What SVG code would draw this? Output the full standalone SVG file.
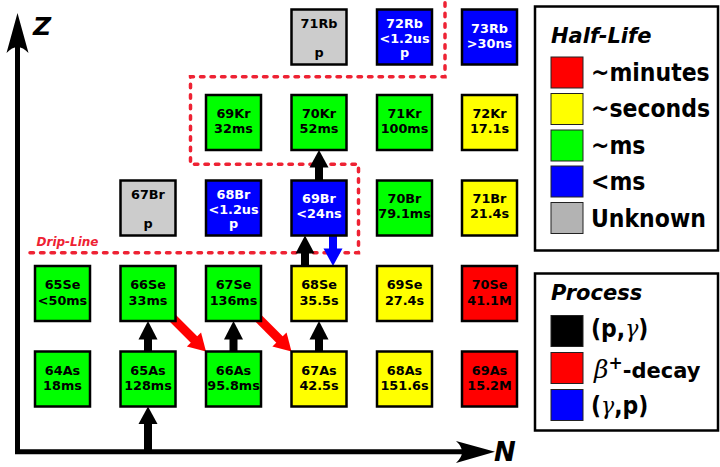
<svg xmlns="http://www.w3.org/2000/svg" width="720" height="467" viewBox="0 0 720 467">
<style>
.nd rect{stroke:#000;stroke-width:2.5}
.g rect{fill:#00ff00}.y rect{fill:#ffff00}.r rect{fill:#ff0000}.b rect{fill:#0000ff}.u rect{fill:#cccccc}
.nd text{font-family:"DejaVu Sans","Liberation Sans",sans-serif;font-weight:bold;font-size:12.8px;text-anchor:middle;fill:#000}
.b text{fill:#fff}
.ax{stroke:#000;stroke-width:5;fill:none}
.lab{font-family:"DejaVu Sans","Liberation Sans",sans-serif;font-weight:bold;font-style:italic}
.lg{font-family:"DejaVu Sans","Liberation Sans",sans-serif;font-weight:bold;font-size:22px}
.sw{stroke:#222;stroke-width:1}
.drip{fill:none;stroke:#ee2233;stroke-width:3.5;stroke-linecap:round;stroke-dasharray:3.5 7}
.math{font-family:"DejaVu Serif","Liberation Serif",serif;font-style:italic;font-weight:normal}
</style>
<rect width="720" height="467" fill="#fff"/>
<g id="axes">
<path class="ax" d="M17.5,40 V451.8 H470"/>
<path d="M17.5,13 L28.5,53 Q17.5,41 6.5,53 Z" fill="#000"/>
<path d="M495,451.8 L456,441 Q468,451.8 456,463 Z" fill="#000"/>
<text class="lab" x="33" y="35" font-size="25">Z</text>
<text class="lab" x="494" y="461" font-size="26">N</text>
</g>
<g id="drip-line">
<path class="drip" d="M30,252.7 H358.5 V164.3 H190.5 V76.7 H445 V0"/>
<text class="lab" x="36.5" y="246" font-size="12" fill="#ee2233">Drip-Line</text>
</g>
<g id="connectors">
<g fill="#000">
<rect x="144" y="423" width="8" height="27"/><polygon points="138.5,424 148,406.5 157.5,424"/>
<rect x="144" y="338" width="8" height="14"/><polygon points="138.5,339.5 148,321 157.5,339.5"/>
<rect x="229.5" y="338" width="8" height="14"/><polygon points="224,339.5 233.5,321 243,339.5"/>
<rect x="315" y="338" width="8" height="14"/><polygon points="309.5,339.5 319,321 328.5,339.5"/>
<rect x="301" y="252" width="8" height="14.5"/><polygon points="295.5,253.5 305,235.5 314.5,253.5"/>
<rect x="315" y="166" width="8" height="15"/><polygon points="309.5,167.5 319,150 328.5,167.5"/>
</g>
<g fill="#0000ff">
<rect x="329" y="235" width="8" height="15"/><polygon points="323.5,248.5 333,266 342.5,248.5"/>
</g>
<g fill="#ff0000" stroke="none">
<line x1="168" y1="313.5" x2="194.5" y2="340" stroke="#ff0000" stroke-width="9"/>
<polygon points="186.9,346.55 206,351.5 201.05,332.41"/>
<line x1="253.5" y1="313.5" x2="280" y2="340" stroke="#ff0000" stroke-width="9"/>
<polygon points="272.4,346.55 291.5,351.5 286.55,332.41"/>
</g>
</g>
<g id="nodes">
<g id="n71Rb" class="nd u" transform="translate(291.5,9.5)"><rect width="55" height="55"/><text x="27.5" y="18">71Rb</text><text x="27.5" y="47.5">p</text></g>
<g id="n72Rb" class="nd b" transform="translate(377,9.5)"><rect width="55" height="55"/><text x="27.5" y="18">72Rb</text><text x="27.5" y="33">&lt;1.2us</text><text x="27.5" y="47.5">p</text></g>
<g id="n73Rb" class="nd b" transform="translate(462,9.5)"><rect width="55" height="55"/><text x="27.5" y="23.5">73Rb</text><text x="27.5" y="38.5">&gt;30ns</text></g>

<g id="n69Kr" class="nd g" transform="translate(206,95)"><rect width="55" height="55"/><text x="27.5" y="22.5">69Kr</text><text x="27.5" y="37.5">32ms</text></g>
<g id="n70Kr" class="nd g" transform="translate(291.5,95)"><rect width="55" height="55"/><text x="27.5" y="22.5">70Kr</text><text x="27.5" y="37.5">52ms</text></g>
<g id="n71Kr" class="nd g" transform="translate(377,95)"><rect width="55" height="55"/><text x="27.5" y="22.5">71Kr</text><text x="27.5" y="37.5">100ms</text></g>
<g id="n72Kr" class="nd y" transform="translate(462,95)"><rect width="55" height="55"/><text x="27.5" y="22.5">72Kr</text><text x="27.5" y="37.5">17.1s</text></g>

<g id="n67Br" class="nd u" transform="translate(120.5,180.5)"><rect width="55" height="55"/><text x="27.5" y="18">67Br</text><text x="27.5" y="47.5">p</text></g>
<g id="n68Br" class="nd b" transform="translate(206,180.5)"><rect width="55" height="55"/><text x="27.5" y="18">68Br</text><text x="27.5" y="33">&lt;1.2us</text><text x="27.5" y="47.5">p</text></g>
<g id="n69Br" class="nd b" transform="translate(291.5,180.5)"><rect width="55" height="55"/><text x="27.5" y="22.5">69Br</text><text x="27.5" y="37.5">&lt;24ns</text></g>
<g id="n70Br" class="nd g" transform="translate(377,180.5)"><rect width="55" height="55"/><text x="27.5" y="22.5">70Br</text><text x="27.5" y="37.5">79.1ms</text></g>
<g id="n71Br" class="nd y" transform="translate(462,180.5)"><rect width="55" height="55"/><text x="27.5" y="22.5">71Br</text><text x="27.5" y="37.5">21.4s</text></g>

<g id="n65Se" class="nd g" transform="translate(35,266)"><rect width="55" height="55"/><text x="27.5" y="23">65Se</text><text x="27.5" y="38.5">&lt;50ms</text></g>
<g id="n66Se" class="nd g" transform="translate(120.5,266)"><rect width="55" height="55"/><text x="27.5" y="23">66Se</text><text x="27.5" y="38.5">33ms</text></g>
<g id="n67Se" class="nd g" transform="translate(206,266)"><rect width="55" height="55"/><text x="27.5" y="23">67Se</text><text x="27.5" y="38.5">136ms</text></g>
<g id="n68Se" class="nd y" transform="translate(291.5,266)"><rect width="55" height="55"/><text x="27.5" y="23">68Se</text><text x="27.5" y="38.5">35.5s</text></g>
<g id="n69Se" class="nd y" transform="translate(377,266)"><rect width="55" height="55"/><text x="27.5" y="23">69Se</text><text x="27.5" y="38.5">27.4s</text></g>
<g id="n70Se" class="nd r" transform="translate(462,266)"><rect width="55" height="55"/><text x="27.5" y="23">70Se</text><text x="27.5" y="38.5">41.1M</text></g>

<g id="n64As" class="nd g" transform="translate(35,351.5)"><rect width="55" height="55"/><text x="27.5" y="23">64As</text><text x="27.5" y="38.5">18ms</text></g>
<g id="n65As" class="nd g" transform="translate(120.5,351.5)"><rect width="55" height="55"/><text x="27.5" y="23">65As</text><text x="27.5" y="38.5">128ms</text></g>
<g id="n66As" class="nd g" transform="translate(206,351.5)"><rect width="55" height="55"/><text x="27.5" y="23">66As</text><text x="27.5" y="38.5">95.8ms</text></g>
<g id="n67As" class="nd y" transform="translate(291.5,351.5)"><rect width="55" height="55"/><text x="27.5" y="23">67As</text><text x="27.5" y="38.5">42.5s</text></g>
<g id="n68As" class="nd y" transform="translate(377,351.5)"><rect width="55" height="55"/><text x="27.5" y="23">68As</text><text x="27.5" y="38.5">151.6s</text></g>
<g id="n69As" class="nd r" transform="translate(462,351.5)"><rect width="55" height="55"/><text x="27.5" y="23">69As</text><text x="27.5" y="38.5">15.2M</text></g>
</g>
<g id="legend-halflife">
<rect x="535" y="6.5" width="183" height="244" fill="#fff" stroke="#000" stroke-width="2.5"/>
<text class="lab" x="551" y="43" font-size="21">Half-Life</text>
<rect class="sw" x="551" y="57" width="32" height="31" fill="#ff0000"/>
<rect class="sw" x="551" y="93.5" width="32" height="31" fill="#ffff00"/>
<rect class="sw" x="551" y="130" width="32" height="31" fill="#00ff00"/>
<rect class="sw" x="551" y="166" width="32" height="31" fill="#0000ff"/>
<rect class="sw" x="551" y="202.5" width="32" height="31" fill="#b3b3b3"/>
<text class="lg" transform="translate(591,80.5) scale(1,1.1)">~minutes</text>
<text class="lg" transform="translate(591,117) scale(1,1.1)">~seconds</text>
<text class="lg" transform="translate(591,153.5) scale(1,1.1)">~ms</text>
<text class="lg" transform="translate(591,189.5) scale(1,1.1)">&lt;ms</text>
<text class="lg" transform="translate(591,226.5) scale(1,1.1)">Unknown</text>
</g>
<g id="legend-process">
<rect x="535" y="273.5" width="183" height="157" fill="#fff" stroke="#000" stroke-width="2.5"/>
<text class="lab" x="551" y="300" font-size="21">Process</text>
<rect class="sw" x="551" y="315.5" width="32" height="31" fill="#000"/>
<rect class="sw" x="551" y="352.5" width="32" height="31" fill="#ff0000"/>
<rect class="sw" x="551" y="389.5" width="32" height="31" fill="#0000ff"/>
<text class="lg" transform="translate(591,337) scale(1,1.1)">(p,<tspan class="math">γ</tspan>)</text>
<text class="lg" transform="translate(594,377.5)"><tspan class="math" font-size="25">β</tspan><tspan font-size="17" dy="-9">+</tspan><tspan dy="9" font-size="21">-decay</tspan></text>
<text class="lg" transform="translate(591,414) scale(1,1.1)">(<tspan class="math">γ</tspan>,p)</text>
</g>
</svg>
